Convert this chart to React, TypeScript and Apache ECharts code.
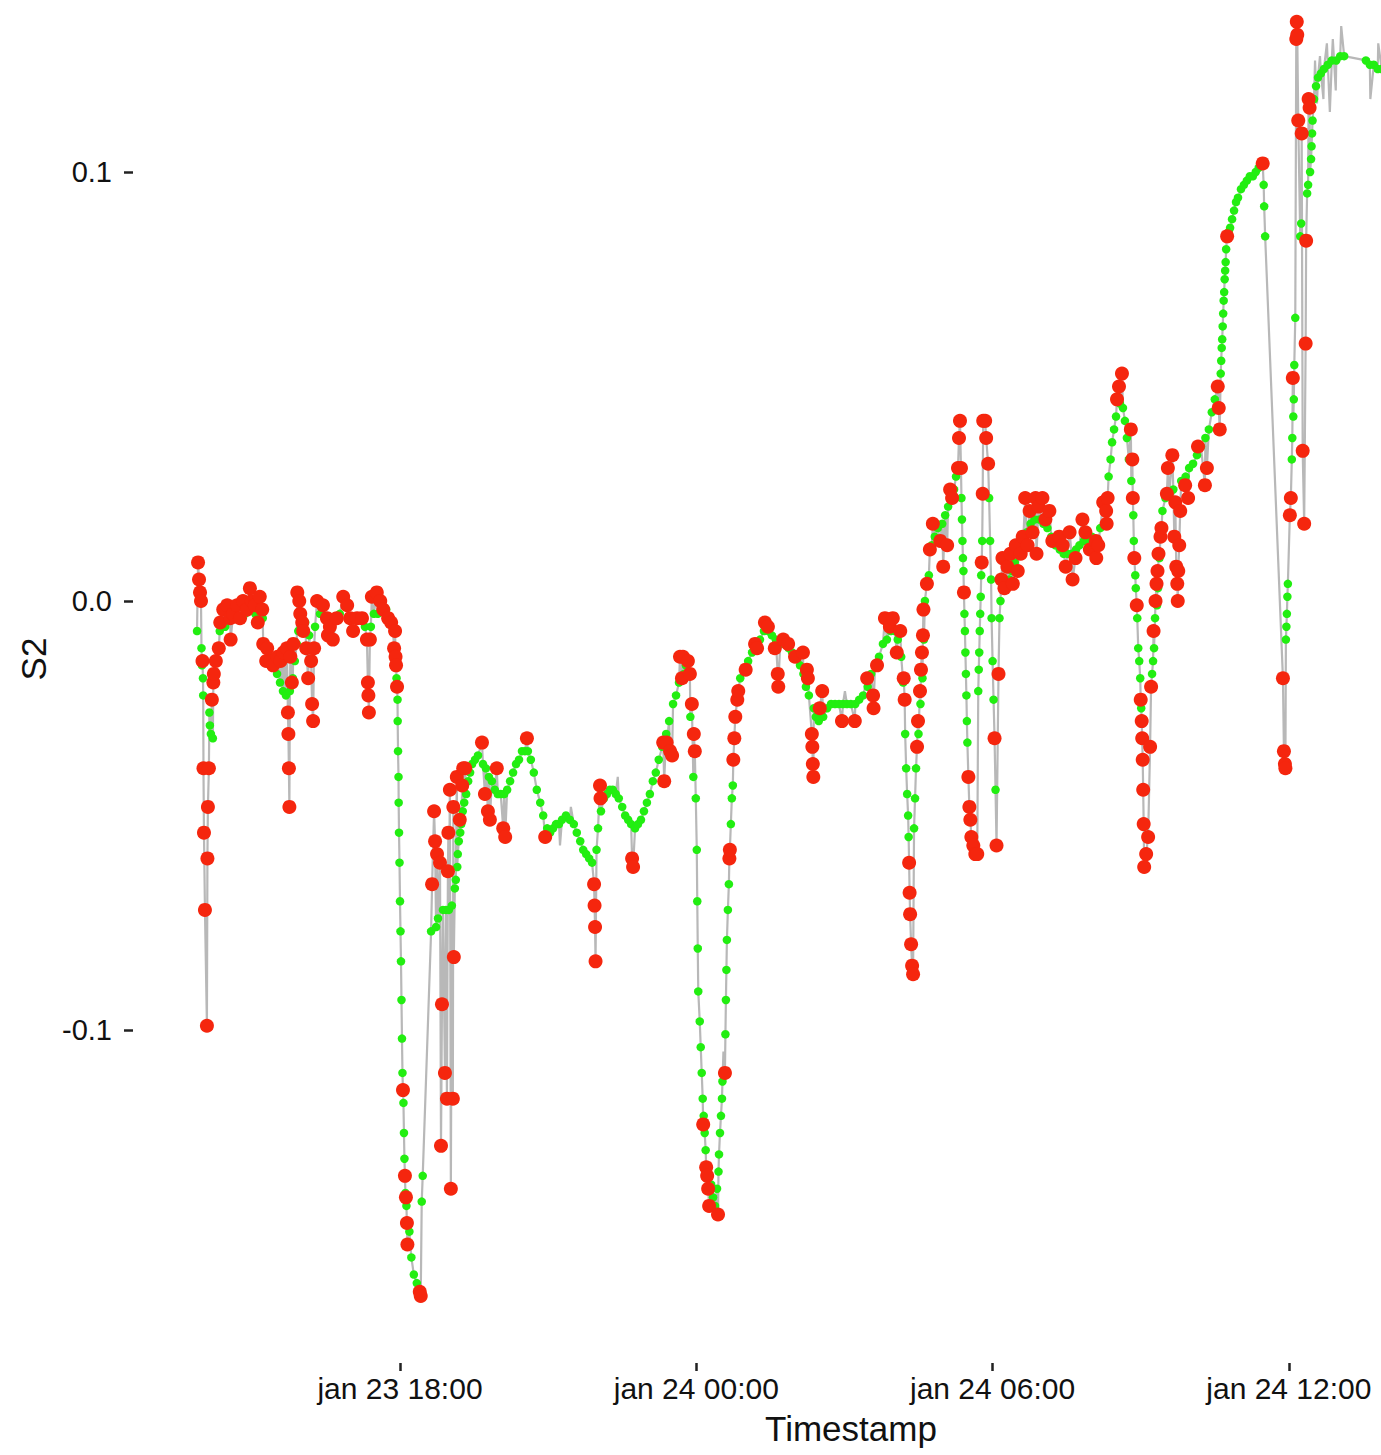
import React, { useEffect, useRef } from "react";
import * as echarts from "echarts";

// Each entry: [hours since jan 23 00:00, S2, anomaly flag (1 = anomaly)]
const seg1: number[][] = [
  [13.89,-0.007,0],[13.91,0.009,1],[13.93,0.005,1],[13.95,0.002,1],[13.97,0.000,1],[13.98,-0.011,0],[13.99,-0.015,0],[14.00,-0.014,1],[14.01,-0.018,0],[14.015,-0.022,0],[14.02,-0.039,1],[14.03,-0.054,1],[14.05,-0.072,1],[14.09,-0.099,1],[14.10,-0.060,1],[14.11,-0.048,1],[14.13,-0.039,1],[14.14,-0.026,0],[14.15,-0.029,0],[14.17,-0.031,0],[14.19,-0.023,1],[14.21,-0.032,0],[14.22,-0.019,1],[14.23,-0.017,1],[14.27,-0.014,1],[14.29,-0.011,0],[14.33,-0.011,1],[14.35,-0.007,0],[14.36,-0.005,1],[14.40,-0.005,0],[14.42,-0.002,1],[14.46,-0.006,0],[14.50,-0.001,1],[14.56,-0.004,1],[14.57,-0.009,1],[14.62,-0.003,1],[14.66,-0.004,0],[14.70,-0.001,1],[14.76,-0.004,1],[14.82,0.000,1],[14.86,-0.003,0],[14.90,-0.002,1],[14.96,0.003,1],[15.00,0.000,1],[15.06,-0.001,1],[15.07,-0.003,0],[15.12,-0.005,1],[15.16,0.001,1],[15.21,-0.002,1],[15.22,-0.004,0],[15.23,-0.010,1],[15.27,-0.011,0],[15.29,-0.014,1],[15.31,-0.011,1],[15.37,-0.013,0],[15.38,-0.014,1],[15.43,-0.015,1],[15.51,-0.017,0],[15.52,-0.013,1],[15.57,-0.019,0],[15.58,-0.014,1],[15.63,-0.021,0],[15.64,-0.012,1],[15.69,-0.022,0],[15.71,-0.011,1],[15.73,-0.026,1],[15.74,-0.031,1],[15.75,-0.039,1],[15.76,-0.048,1],[15.77,-0.021,0],[15.78,-0.013,1],[15.81,-0.019,1],[15.83,-0.018,0],[15.84,-0.010,1],[15.87,-0.014,0],[15.91,-0.010,0],[15.92,0.002,1],[15.94,-0.007,0],[15.96,0.000,1],[15.98,-0.003,1],[16.02,-0.005,1],[16.04,-0.007,1],[16.08,-0.005,0],[16.10,-0.011,1],[16.14,-0.018,1],[16.16,-0.008,0],[16.20,-0.014,1],[16.22,-0.024,1],[16.24,-0.028,1],[16.26,-0.011,1],[16.28,-0.006,0],[16.32,0.000,1],[16.38,-0.003,0],[16.44,-0.001,1],[16.52,-0.004,1],[16.54,-0.008,1],[16.58,-0.006,1],[16.62,-0.004,0],[16.64,-0.009,1],[16.72,-0.004,1],[16.78,-0.003,0],[16.85,0.001,1],[16.93,-0.001,1],[16.99,-0.004,1],[17.05,-0.007,1],[17.09,-0.004,0],[17.13,-0.004,1],[17.23,-0.004,1],[17.29,-0.006,0],[17.33,-0.009,1],[17.35,-0.019,1],[17.36,-0.022,1],[17.37,-0.026,1],[17.39,-0.009,1],[17.41,-0.006,0],[17.43,0.001,1],[17.47,-0.003,0],[17.53,0.002,1],[17.55,-0.003,0],[17.60,0.000,1],[17.64,-0.001,0],[17.66,-0.002,1],[17.72,-0.002,0],[17.76,-0.004,1],[17.82,-0.005,1],[17.86,-0.007,0],[17.88,-0.011,1],[17.90,-0.007,1],[17.91,-0.013,1],[17.92,-0.015,1],[17.93,-0.018,0],[17.94,-0.020,1],[17.95,-0.023,0],[17.953,-0.028,0],[17.96,-0.035,0],[17.97,-0.041,0],[17.973,-0.047,0],[17.98,-0.054,0],[17.99,-0.061,0],[18.00,-0.070,0],[18.01,-0.077,0],[18.02,-0.084,0],[18.03,-0.093,0],[18.04,-0.102,0],[18.05,-0.110,0],[18.06,-0.114,1],[18.07,-0.117,0],[18.08,-0.124,0],[18.09,-0.130,0],[18.10,-0.134,1],[18.11,-0.138,0],[18.12,-0.139,1],[18.13,-0.141,0],[18.14,-0.145,1],[18.15,-0.150,1],[18.19,-0.147,0],[18.23,-0.153,0],[18.28,-0.157,0],[18.34,-0.159,0],[18.40,-0.161,1],[18.42,-0.162,1],[18.44,-0.140,0],[18.46,-0.134,0]
];

const seg2: number[][] = [
  [18.63,-0.077,0],[18.65,-0.066,1],[18.69,-0.049,1],[18.71,-0.056,1],[18.73,-0.076,0],[18.75,-0.059,1],[18.77,-0.074,0],[18.81,-0.061,1],[18.83,-0.127,1],[18.85,-0.094,1],[18.87,-0.072,0],[18.91,-0.110,1],[18.93,-0.072,0],[18.95,-0.116,1],[18.97,-0.063,1],[18.98,-0.054,1],[18.99,-0.072,0],[19.01,-0.044,1],[19.03,-0.137,1],[19.05,-0.071,0],[19.07,-0.116,1],[19.08,-0.048,1],[19.09,-0.083,1],[19.11,-0.067,0],[19.13,-0.065,0],[19.15,-0.041,1],[19.16,-0.062,0],[19.17,-0.059,0],[19.19,-0.056,0],[19.21,-0.051,1],[19.22,-0.054,0],[19.24,-0.052,0],[19.26,-0.043,1],[19.27,-0.049,0],[19.28,-0.039,1],[19.30,-0.047,0],[19.32,-0.039,1],[19.34,-0.045,0],[19.38,-0.042,0],[19.42,-0.040,0],[19.46,-0.038,0],[19.52,-0.037,0],[19.58,-0.036,0],[19.66,-0.033,1],[19.68,-0.038,0],[19.72,-0.045,1],[19.74,-0.039,0],[19.78,-0.049,1],[19.80,-0.041,0],[19.82,-0.051,1],[19.86,-0.042,0],[19.92,-0.044,0],[19.96,-0.039,1],[19.98,-0.045,0],[20.04,-0.045,0],[20.09,-0.053,1],[20.11,-0.045,0],[20.13,-0.055,1],[20.17,-0.044,0],[20.23,-0.042,0],[20.29,-0.040,0],[20.35,-0.038,0],[20.41,-0.037,0],[20.47,-0.035,0],[20.53,-0.035,0],[20.57,-0.032,1],[20.59,-0.035,0],[20.65,-0.037,0],[20.71,-0.040,0],[20.77,-0.044,0],[20.84,-0.047,0],[20.90,-0.050,0],[20.94,-0.055,1],[20.98,-0.053,0],[21.04,-0.054,0],[21.10,-0.053,0],[21.16,-0.052,0],[21.22,-0.052,0],[21.28,-0.051,0],[21.36,-0.050,0],[21.44,-0.051,0],[21.52,-0.052,0],[21.58,-0.054,0],[21.65,-0.056,0],[21.71,-0.058,0],[21.77,-0.059,0],[21.83,-0.060,0],[21.89,-0.061,0],[21.93,-0.066,1],[21.94,-0.071,1],[21.95,-0.076,1],[21.96,-0.084,1],[21.98,-0.058,0],[22.01,-0.053,0],[22.05,-0.043,1],[22.06,-0.046,1],[22.07,-0.049,0],[22.13,-0.046,0],[22.19,-0.045,0],[22.25,-0.044,0],[22.31,-0.044,0],[22.37,-0.045,0],[22.43,-0.046,0],[22.50,-0.048,0],[22.56,-0.050,0],[22.62,-0.051,0],[22.68,-0.052,0],[22.70,-0.060,1],[22.72,-0.062,1],[22.76,-0.053,0],[22.82,-0.052,0],[22.88,-0.051,0],[22.94,-0.049,0],[23.00,-0.047,0],[23.06,-0.045,0],[23.12,-0.042,0],[23.18,-0.040,0],[23.24,-0.037,0],[23.31,-0.034,0],[23.33,-0.033,1],[23.35,-0.042,1],[23.39,-0.031,0],[23.40,-0.033,1],[23.45,-0.028,0],[23.47,-0.035,1],[23.51,-0.036,1],[23.53,-0.024,0],[23.59,-0.022,0],[23.65,-0.019,0],[23.67,-0.013,1],[23.71,-0.018,1],[23.73,-0.013,1],[23.75,-0.017,0],[23.79,-0.015,0],[23.83,-0.014,1],[23.87,-0.017,1],[23.88,-0.027,0],[23.91,-0.024,1],[23.94,-0.041,0],[23.95,-0.031,1],[23.97,-0.035,1],[23.99,-0.046,0],[24.01,-0.058,0],[24.02,-0.070,0],[24.03,-0.081,0],[24.04,-0.091,0],[24.07,-0.098,0],[24.09,-0.104,0],[24.11,-0.110,0],[24.13,-0.116,0],[24.14,-0.122,1],[24.15,-0.120,0],[24.17,-0.124,0],[24.19,-0.128,0],[24.20,-0.132,1],[24.22,-0.134,1],[24.24,-0.137,1],[24.26,-0.141,1],[24.30,-0.136,0],[24.34,-0.139,0],[24.38,-0.141,0],[24.42,-0.137,0],[24.44,-0.143,1],[24.45,-0.133,0],[24.46,-0.129,0],[24.48,-0.124,0],[24.50,-0.120,0],[24.52,-0.116,0],[24.53,-0.112,0],[24.58,-0.110,1],[24.59,-0.101,0],[24.60,-0.093,0],[24.61,-0.086,0],[24.62,-0.079,0],[24.64,-0.072,0],[24.66,-0.066,0],[24.67,-0.060,1],[24.68,-0.058,1],[24.70,-0.052,0],[24.72,-0.046,0],[24.74,-0.043,0],[24.75,-0.037,1],[24.77,-0.032,1],[24.79,-0.027,1],[24.83,-0.023,1],[24.85,-0.021,1]
];

const seg3: number[][] = [
  [24.89,-0.018,0],[24.97,-0.016,0],[25.00,-0.016,1],[25.05,-0.014,0],[25.13,-0.012,0],[25.19,-0.010,1],[25.21,-0.011,0],[25.23,-0.011,1],[25.29,-0.009,0],[25.37,-0.007,0],[25.39,-0.005,1],[25.45,-0.006,1],[25.46,-0.007,0],[25.53,-0.008,0],[25.59,-0.011,1],[25.61,-0.009,0],[25.65,-0.017,1],[25.66,-0.020,1],[25.70,-0.010,0],[25.76,-0.009,1],[25.78,-0.010,0],[25.86,-0.010,1],[25.87,-0.011,0],[25.94,-0.012,0],[26.00,-0.013,1],[26.02,-0.013,0],[26.10,-0.015,0],[26.16,-0.012,1],[26.17,-0.017,0],[26.22,-0.020,0],[26.24,-0.016,1],[26.26,-0.018,1],[26.28,-0.022,0],[26.34,-0.031,1],[26.35,-0.034,1],[26.36,-0.038,1],[26.37,-0.041,1],[26.38,-0.025,0],[26.42,-0.027,0],[26.48,-0.028,0],[26.50,-0.025,1],[26.55,-0.021,1],[26.57,-0.027,0],[26.65,-0.025,0],[26.73,-0.024,0],[26.81,-0.024,0],[26.89,-0.024,0],[26.95,-0.028,1],[26.97,-0.024,0],[27.05,-0.024,0],[27.13,-0.024,0],[27.21,-0.028,1],[27.22,-0.024,0],[27.30,-0.023,0],[27.38,-0.022,0],[27.46,-0.018,1],[27.47,-0.020,0],[27.54,-0.017,0],[27.58,-0.022,1],[27.59,-0.025,1],[27.62,-0.015,0],[27.66,-0.015,1],[27.70,-0.013,0],[27.78,-0.010,0],[27.82,-0.004,1],[27.86,-0.009,0],[27.92,-0.006,1],[27.94,-0.007,0],[27.98,-0.004,1],[28.02,-0.007,0],[28.06,-0.012,1],[28.08,-0.009,0],[28.13,-0.007,1],[28.15,-0.013,0],[28.19,-0.019,0],[28.20,-0.018,1],[28.22,-0.023,1],[28.23,-0.031,0],[28.25,-0.039,0],[28.27,-0.045,0],[28.29,-0.050,0],[28.30,-0.055,0],[28.31,-0.061,1],[28.32,-0.068,1],[28.33,-0.073,1],[28.35,-0.080,1],[28.37,-0.085,1],[28.39,-0.087,1],[28.41,-0.053,0],[28.43,-0.046,0],[28.45,-0.039,0],[28.47,-0.034,1],[28.49,-0.028,1],[28.50,-0.031,0],[28.53,-0.021,1],[28.54,-0.024,0],[28.55,-0.016,1],[28.57,-0.012,1],[28.58,-0.018,0],[28.59,-0.008,1],[28.60,-0.002,1],[28.61,-0.009,0]
];

const seg4: number[][] = [
  [28.63,0.000,0],[28.67,0.004,1],[28.71,0.006,0],[28.73,0.012,1],[28.77,0.013,0],[28.79,0.018,1],[28.83,0.015,0],[28.89,0.017,0],[28.94,0.014,1],[28.98,0.018,0],[29.00,0.008,1],[29.04,0.020,0],[29.08,0.013,1],[29.10,0.022,0],[29.14,0.026,1],[29.18,0.024,1],[29.22,0.026,0],[29.26,0.029,0],[29.30,0.031,1],[29.32,0.038,1],[29.34,0.042,1],[29.36,0.031,1],[29.37,0.024,0],[29.38,0.019,0],[29.39,0.014,0],[29.40,0.010,0],[29.41,0.007,0],[29.42,0.002,1],[29.43,-0.003,0],[29.44,-0.007,0],[29.45,-0.012,0],[29.46,-0.017,0],[29.47,-0.022,0],[29.48,-0.028,0],[29.49,-0.033,0],[29.51,-0.041,1],[29.53,-0.048,1],[29.55,-0.051,1],[29.57,-0.055,1],[29.61,-0.057,1],[29.65,-0.059,1],[29.69,-0.059,1],[29.71,-0.021,0],[29.72,-0.016,0],[29.73,-0.012,0],[29.74,-0.007,0],[29.75,-0.003,0],[29.76,0.001,0],[29.77,0.006,0],[29.78,0.009,1],[29.79,0.014,0],[29.80,0.025,1],[29.81,0.042,1],[29.85,0.042,1],[29.87,0.038,1],[29.91,0.032,1],[29.93,0.024,0],[29.95,0.014,0],[29.97,0.005,0],[29.98,-0.004,0],[30.00,-0.014,0],[30.02,-0.023,0],[30.04,-0.032,1],[30.06,-0.044,0],[30.08,-0.057,1],[30.12,-0.017,1],[30.14,-0.004,0],[30.16,0.000,0],[30.18,0.005,1],[30.20,0.010,1],[30.24,0.003,1],[30.26,0.004,0],[30.30,0.008,1],[30.34,0.005,0],[30.36,0.011,1],[30.39,0.007,0],[30.41,0.004,1],[30.45,0.009,0],[30.47,0.013,1],[30.51,0.007,1],[30.53,0.011,0],[30.57,0.011,1],[30.61,0.015,1],[30.62,0.014,0],[30.66,0.024,1],[30.69,0.016,0],[30.71,0.013,1],[30.75,0.021,1],[30.77,0.018,0],[30.81,0.016,1],[30.85,0.019,0],[30.87,0.024,1],[30.89,0.011,1],[30.93,0.022,1],[30.95,0.019,0],[31.01,0.024,1],[31.03,0.018,0],[31.07,0.019,1],[31.11,0.017,0],[31.15,0.021,1],[31.19,0.015,0],[31.21,0.014,1],[31.27,0.013,0],[31.35,0.015,1],[31.36,0.012,0],[31.42,0.013,1],[31.44,0.011,0],[31.48,0.008,1],[31.52,0.011,0],[31.56,0.016,1],[31.60,0.011,0],[31.62,0.005,1],[31.68,0.010,1],[31.69,0.012,0],[31.76,0.013,0],[31.82,0.019,1],[31.85,0.014,0],[31.88,0.016,1],[31.93,0.014,0],[31.97,0.012,1],[32.01,0.015,0],[32.09,0.014,1],[32.10,0.010,1],[32.14,0.013,1],[32.18,0.017,0],[32.24,0.023,1],[32.26,0.021,0],[32.30,0.021,1],[32.31,0.018,1],[32.33,0.024,1]
];

const seg5: number[][] = [
  [32.35,0.029,0],[32.39,0.033,0],[32.42,0.037,0],[32.46,0.040,0],[32.50,0.043,0],[32.52,0.047,1],[32.56,0.050,1],[32.58,0.046,0],[32.62,0.053,1],[32.64,0.045,0],[32.68,0.042,0],[32.72,0.038,0],[32.76,0.033,0],[32.80,0.040,1],[32.81,0.028,0],[32.83,0.033,1],[32.84,0.024,1],[32.85,0.020,0],[32.86,0.014,0],[32.87,0.010,1],[32.89,0.006,0],[32.90,0.003,0],[32.92,-0.001,1],[32.93,-0.004,0],[32.95,-0.011,0],[32.97,-0.014,0],[32.99,-0.018,0],[33.00,-0.023,1],[33.01,-0.025,0],[33.02,-0.028,1],[33.03,-0.032,1],[33.04,-0.037,1],[33.05,-0.044,1],[33.06,-0.052,1],[33.07,-0.062,1],[33.11,-0.059,1],[33.15,-0.055,1],[33.19,-0.034,1],[33.21,-0.020,1],[33.23,-0.017,0],[33.25,-0.014,0],[33.26,-0.007,1],[33.27,-0.011,0],[33.29,-0.004,0],[33.30,0.000,1],[33.32,0.004,1],[33.33,-0.001,0],[33.34,0.007,1],[33.35,0.003,0],[33.36,0.011,1],[33.38,0.010,0],[33.40,0.015,1],[33.42,0.017,1],[33.44,0.021,0],[33.50,0.024,0],[33.53,0.025,1],[33.55,0.031,1],[33.58,0.025,0],[33.64,0.034,1],[33.66,0.026,0],[33.68,0.015,1],[33.70,0.023,1],[33.72,0.008,1],[33.74,0.004,1],[33.75,0.000,1],[33.76,0.007,1],[33.78,0.013,1],[33.80,0.021,1],[33.82,0.028,0],[33.90,0.027,1],[33.91,0.029,0],[33.96,0.024,1],[33.98,0.031,0],[34.06,0.032,0],[34.14,0.034,0],[34.16,0.036,1],[34.22,0.036,0],[34.30,0.027,1],[34.31,0.038,0],[34.34,0.031,1],[34.38,0.040,0],[34.44,0.044,0],[34.50,0.047,0],[34.56,0.050,1],[34.58,0.045,1],[34.60,0.040,1],[34.62,0.053,0],[34.63,0.056,0],[34.64,0.059,0],[34.65,0.061,0],[34.66,0.064,0],[34.67,0.067,0],[34.68,0.070,0],[34.69,0.072,0],[34.70,0.075,0],[34.71,0.077,0],[34.72,0.079,0],[34.73,0.082,0],[34.75,0.085,1],[34.78,0.086,0],[34.81,0.087,0],[34.85,0.089,0],[34.89,0.091,0],[34.93,0.093,0],[34.97,0.094,0],[35.03,0.096,0],[35.09,0.097,0],[35.15,0.098,0],[35.21,0.099,0],[35.27,0.099,0],[35.33,0.100,0],[35.39,0.101,0],[35.47,0.102,1],[35.49,0.097,0],[35.50,0.092,0],[35.52,0.085,0]
];

const seg6: number[][] = [
  [35.88,-0.018,1],[35.90,-0.035,1],[35.92,-0.038,1],[35.93,-0.039,1],[35.94,-0.009,0],[35.95,-0.006,0],[35.96,-0.003,0],[35.97,0.001,0],[35.98,0.004,0],[36.02,0.020,1],[36.04,0.024,1],[36.06,0.033,0],[36.07,0.038,0],[36.08,0.052,1],[36.09,0.043,0],[36.10,0.047,0],[36.11,0.055,0],[36.13,0.066,0],[36.15,0.131,1],[36.16,0.135,1],[36.17,0.132,1],[36.19,0.112,1],[36.23,0.085,0],[36.25,0.088,0],[36.26,0.109,1],[36.28,0.035,1],[36.31,0.018,1],[36.34,0.060,1],[36.35,0.084,1],[36.37,0.095,0],[36.39,0.097,0],[36.40,0.117,1],[36.42,0.115,1],[36.43,0.100,0],[36.45,0.103,0],[36.46,0.106,0],[36.47,0.109,0],[36.48,0.112,0],[36.51,0.117,0],[36.55,0.120,0],[36.59,0.122,0],[36.65,0.123,0],[36.71,0.124,0],[36.79,0.125,0],[36.87,0.126,0],[36.96,0.126,0],[37.04,0.127,0],[37.12,0.127,0],[37.56,0.126,0],[37.64,0.125,0],[37.72,0.125,0],[37.80,0.124,0],[37.88,0.124,0]
];

// Raw readings that appear only in the grey trace: [hours, S2]
const rawOnly: number[][] = [
  [21.24,-0.057],[21.46,-0.048],[22.41,-0.041],[24.55,-0.105],[27.01,-0.021],
  [36.53,0.126],[36.57,0.116],[36.63,0.127],[36.70,0.117],[36.77,0.130],[36.83,0.114],
  [36.89,0.131],[36.95,0.119],[37.06,0.134],[37.65,0.117],[37.81,0.130]
];

const xTickHours = [18, 24, 30, 36];
const yTickValues = [-0.1, 0, 0.1];

const FONT = "'Liberation Sans', Arial, Helvetica, sans-serif";

function formatHour(h: number): string {
  const day = 23 + Math.floor(h / 24);
  const hh = Math.round(h % 24);
  return `jan ${day} ${String(hh).padStart(2, "0")}:00`;
}

export default function App() {
  const ref = useRef<HTMLDivElement>(null);
  useEffect(() => {
    document.body.style.margin = "0";
    document.body.style.overflow = "hidden";
    document.documentElement.style.overflow = "hidden";
    const chart = echarts.init(ref.current!, null, { renderer: "svg" });
    const all = [...seg1, ...seg2, ...seg3, ...seg4, ...seg5, ...seg6];
    const lineData = [...all.map((p) => [p[0], p[1]]), ...rawOnly].sort((a, b) => a[0] - b[0]);
    const normal = all.filter((p) => p[2] === 0).map((p) => [p[0], p[1]]);
    const anomaly = all.filter((p) => p[2] === 1).map((p) => [p[0], p[1]]);

    chart.setOption({
      animation: false,
      backgroundColor: "#ffffff",
      grid: { left: 133, right: 0, top: 0, bottom: 92 },
      xAxis: {
        type: "value",
        min: 12.593,
        max: 41.673,
        name: "Timestamp",
        nameLocation: "middle",
        nameGap: 48,
        nameTextStyle: { fontSize: 35, color: "#111", fontFamily: FONT },
        axisLine: { show: false, onZero: false },
        axisTick: { show: true, length: 8, lineStyle: { color: "#222", width: 2.5 }, customValues: xTickHours },
        axisLabel: { customValues: xTickHours, formatter: (v: number) => formatHour(v), margin: 10, fontSize: 30, color: "#111", fontFamily: FONT },
        splitLine: { show: false },
      },
      yAxis: {
        type: "value",
        min: -0.17762,
        max: 0.15058,
        name: "S2",
        nameLocation: "middle",
        nameGap: 78,
        nameTextStyle: { fontSize: 35, color: "#111", fontFamily: FONT },
        axisLine: { show: false, onZero: false },
        axisTick: { show: true, length: 9, lineStyle: { color: "#222", width: 2.5 }, customValues: yTickValues },
        axisLabel: { customValues: yTickValues, formatter: (v: number) => v.toFixed(1), margin: 21, fontSize: 29, color: "#111", fontFamily: FONT },
        splitLine: { show: false },
      },
      series: [
        {
          type: "line",
          data: lineData,
          showSymbol: false,
          symbol: "none",
          lineStyle: { color: "#b8b8b8", width: 2.2 },
          z: 1,
        },
        {
          type: "scatter",
          data: normal,
          symbolSize: 8.5,
          itemStyle: { color: "#22ee11", opacity: 1 },
          z: 2,
        },
        {
          type: "scatter",
          data: anomaly,
          symbolSize: 14,
          itemStyle: { color: "#f5260e", opacity: 1 },
          z: 3,
        },
      ],
    });
    return () => chart.dispose();
  }, []);
  // The plotting panel extends past the right and top edges of the window (the reference is a crop).
  return (
    <div
      ref={ref}
      style={{ position: "absolute", left: 0, top: -45, width: 1569, height: 1500 }}
    />
  );
}
